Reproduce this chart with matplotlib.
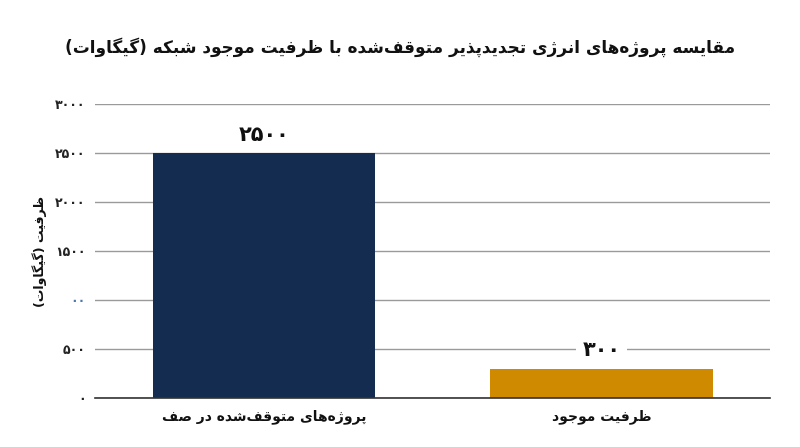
import matplotlib.pyplot as plt

# داده‌ها
categories = ["پروژه‌های متوقف‌شده در صف", "ظرفیت موجود"]
values = [2500, 300]
bar_colors = ["#132c4f", "#cf8a00"]
tick_values = [0, 500, 1000, 1500, 2000, 2500, 3000]
tick_labels = ["۰", "۵۰۰", "۰۰", "۱۵۰۰", "۲۰۰۰", "۲۵۰۰", "۳۰۰۰"]
value_labels = ["۲۵۰۰", "۳۰۰"]
title = "مقایسه پروژه‌های انرژی تجدیدپذیر متوقف‌شده با ظرفیت موجود شبکه (گیگاوات)"
ylabel = "ظرفیت (گیگاوات)"

# فرم‌های حروف: (تنها، پایانی، آغازی، میانی)
FORMS = {
    'ا': ('\uFE8D', '\uFE8E'), 'ب': ('\uFE8F', '\uFE90', '\uFE91', '\uFE92'),
    'پ': ('\uFB56', '\uFB57', '\uFB58', '\uFB59'), 'ت': ('\uFE95', '\uFE96', '\uFE97', '\uFE98'),
    'ج': ('\uFE9D', '\uFE9E', '\uFE9F', '\uFEA0'), 'د': ('\uFEA9', '\uFEAA'),
    'ذ': ('\uFEAB', '\uFEAC'), 'ر': ('\uFEAD', '\uFEAE'), 'ز': ('\uFEAF', '\uFEB0'),
    'ژ': ('\uFB8A', '\uFB8B'), 'س': ('\uFEB1', '\uFEB2', '\uFEB3', '\uFEB4'),
    'ش': ('\uFEB5', '\uFEB6', '\uFEB7', '\uFEB8'), 'ص': ('\uFEB9', '\uFEBA', '\uFEBB', '\uFEBC'),
    'ظ': ('\uFEC5', '\uFEC6', '\uFEC7', '\uFEC8'), 'ف': ('\uFED1', '\uFED2', '\uFED3', '\uFED4'),
    'ق': ('\uFED5', '\uFED6', '\uFED7', '\uFED8'), 'ک': ('\uFB8E', '\uFB8F', '\uFB90', '\uFB91'),
    'گ': ('\uFB92', '\uFB93', '\uFB94', '\uFB95'), 'م': ('\uFEE1', '\uFEE2', '\uFEE3', '\uFEE4'),
    'ن': ('\uFEE5', '\uFEE6', '\uFEE7', '\uFEE8'), 'و': ('\uFEED', '\uFEEE'),
    'ه': ('\uFEE9', '\uFEEA', '\uFEEB', '\uFEEC'), 'ی': ('\uFBFC', '\uFBFD', '\uFBFE', '\uFBFF'),
}
MIRROR = {'(': ')', ')': '('}


def fa(text):
    # شکل‌دهی حروف و برگرداندن ترتیب برای نمایش راست‌به‌چپ
    out = []
    for i, ch in enumerate(text):
        if ch not in FORMS:
            out.append(ch)
            continue
        prev = text[i - 1] if i > 0 else ''
        nxt = text[i + 1] if i + 1 < len(text) else ''
        join_prev = prev in FORMS and len(FORMS[prev]) == 4
        join_next = nxt in FORMS and len(FORMS[ch]) == 4
        f = FORMS[ch]
        if join_prev and join_next:
            out.append(f[3])
        elif join_prev:
            out.append(f[1])
        elif join_next:
            out.append(f[2])
        else:
            out.append(f[0])
    s = ''.join(c for c in out if c != '\u200c')
    # برگرداندن، با حفظ ترتیب ارقام
    runs, cur = [], ''
    for c in s:
        if '\u06f0' <= c <= '\u06f9':
            cur += c
        else:
            if cur:
                runs.append(cur)
                cur = ''
            runs.append(MIRROR.get(c, c))
    if cur:
        runs.append(cur)
    return ''.join(reversed(runs))


plt.rcParams['font.family'] = ['DejaVu Sans']

fig = plt.figure(figsize=(8, 4.47), dpi=100)
ax = fig.add_axes([0.119, 0.1096, 0.8435, 0.6574])

x = list(range(len(categories)))
bars = ax.bar(x, values, width=0.66, color=bar_colors, zorder=2)

ax.set_xlim(-0.5, 1.5)
ax.set_ylim(0, 3000)
ax.set_yticks(tick_values)
ax.set_yticklabels([fa(t) for t in tick_labels], fontsize=9, fontweight='bold', color='#222222')
ax.get_yticklabels()[2].set_color('#4a78b0')
ax.set_xticks(x)
ax.set_xticklabels([fa(c) for c in categories], fontsize=10, fontweight='bold', color='#111111')
ax.tick_params(axis='y', length=0, pad=7)
ax.tick_params(axis='x', length=0, pad=8)

ax.grid(axis='y', color='#9a9a9a', linewidth=1.0, zorder=0)
for s in ['top', 'right', 'left']:
    ax.spines[s].set_visible(False)
ax.spines['bottom'].set_color('#333333')
ax.spines['bottom'].set_linewidth(1.2)

for b, lab in zip(bars, value_labels):
    ax.annotate(fa(lab), (b.get_x() + b.get_width() / 2, b.get_height()),
                xytext=(0, 6), textcoords='offset points', ha='center', va='bottom',
                fontsize=15, fontweight='bold', color='#111111', zorder=3,
                bbox=dict(boxstyle='square,pad=0.3', fc='white', ec='none'))

ax.set_ylabel(fa(ylabel), fontsize=9, fontweight='bold', color='#111111', labelpad=6)
fig.text(0.5, 0.895, fa(title), ha='center', va='center', fontsize=12.2, fontweight='bold', color='#111111')

plt.savefig("out.png", dpi=100)
plt.close()
